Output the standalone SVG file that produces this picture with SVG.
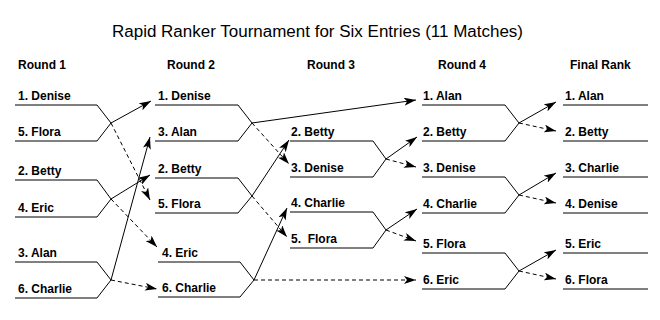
<svg xmlns="http://www.w3.org/2000/svg" width="660" height="320" viewBox="0 0 660 320">
<style>
.bg{fill:#fff}
.t{font-family:"Liberation Sans",Arial,sans-serif;font-size:12px;font-weight:bold;fill:#000;white-space:pre}
.title{font-family:"Liberation Sans",Arial,sans-serif;font-size:16px;fill:#000}
.u{stroke:#000;stroke-width:1;fill:none}
.d{stroke:#000;stroke-width:1;fill:none}
.w{stroke:#000;stroke-width:1;fill:none;marker-end:url(#ah)}
.l{stroke:#000;stroke-width:1;fill:none;stroke-dasharray:4 3;marker-end:url(#ah)}
</style>
<defs>
<marker id="ah" markerUnits="userSpaceOnUse" markerWidth="12" markerHeight="8" refX="12" refY="4" orient="auto">
<path d="M0,0 L12,4 L0,8 L3,4 z" fill="#000"/>
</marker>
</defs>
<rect class="bg" x="0" y="0" width="660" height="320"/>
<text class="title" x="112" y="37" textLength="411" lengthAdjust="spacingAndGlyphs">Rapid Ranker Tournament for Six Entries (11 Matches)</text>
<g id="headers">
<text class="t" x="18" y="69">Round 1</text>
<text class="t" x="167" y="69">Round 2</text>
<text class="t" x="307" y="69">Round 3</text>
<text class="t" x="438" y="69">Round 4</text>
<text class="t" x="570" y="69">Final Rank</text>
</g>
<g id="round1">
<g id="r1-denise"><text class="t" x="18" y="100">1. Denise</text><line class="u" x1="15" y1="105" x2="97" y2="105"/></g>
<g id="r1-flora"><text class="t" x="18" y="136">5. Flora</text><line class="u" x1="15" y1="141" x2="97" y2="141"/></g>
<g id="r1-betty"><text class="t" x="18" y="175">2. Betty</text><line class="u" x1="15" y1="180" x2="97" y2="180"/></g>
<g id="r1-eric"><text class="t" x="18" y="212">4. Eric</text><line class="u" x1="15" y1="217" x2="97" y2="217"/></g>
<g id="r1-alan"><text class="t" x="18" y="257">3. Alan</text><line class="u" x1="15" y1="262" x2="97" y2="262"/></g>
<g id="r1-charlie"><text class="t" x="18" y="293">6. Charlie</text><line class="u" x1="15" y1="298" x2="97" y2="298"/></g>
</g>
<g id="round2">
<g id="r2-denise"><text class="t" x="158" y="100">1. Denise</text><line class="u" x1="155" y1="105" x2="238" y2="105"/></g>
<g id="r2-alan"><text class="t" x="158" y="136">3. Alan</text><line class="u" x1="155" y1="141" x2="238" y2="141"/></g>
<g id="r2-betty"><text class="t" x="158" y="173">2. Betty</text><line class="u" x1="155" y1="178" x2="238" y2="178"/></g>
<g id="r2-flora"><text class="t" x="158" y="208">5. Flora</text><line class="u" x1="155" y1="213" x2="238" y2="213"/></g>
<g id="r2-eric"><text class="t" x="162" y="257">4. Eric</text><line class="u" x1="158" y1="262" x2="240" y2="262"/></g>
<g id="r2-charlie"><text class="t" x="162" y="292">6. Charlie</text><line class="u" x1="158" y1="297" x2="240" y2="297"/></g>
</g>
<g id="round3">
<g id="r3-betty"><text class="t" x="291" y="136">2. Betty</text><line class="u" x1="290" y1="141" x2="373" y2="141"/></g>
<g id="r3-denise"><text class="t" x="291" y="172">3. Denise</text><line class="u" x1="290" y1="177" x2="373" y2="177"/></g>
<g id="r3-charlie"><text class="t" x="291" y="207">4. Charlie</text><line class="u" x1="290" y1="212" x2="373" y2="212"/></g>
<g id="r3-flora"><text class="t" x="291" y="243">5.  Flora</text><line class="u" x1="290" y1="248" x2="373" y2="248"/></g>
</g>
<g id="round4">
<g id="r4-alan"><text class="t" x="423" y="100">1. Alan</text><line class="u" x1="422" y1="105" x2="505" y2="105"/></g>
<g id="r4-betty"><text class="t" x="423" y="136">2. Betty</text><line class="u" x1="422" y1="141" x2="505" y2="141"/></g>
<g id="r4-denise"><text class="t" x="423" y="172">3. Denise</text><line class="u" x1="422" y1="177" x2="505" y2="177"/></g>
<g id="r4-charlie"><text class="t" x="423" y="208">4. Charlie</text><line class="u" x1="422" y1="213" x2="505" y2="213"/></g>
<g id="r4-flora"><text class="t" x="423" y="248">5. Flora</text><line class="u" x1="422" y1="253" x2="505" y2="253"/></g>
<g id="r4-eric"><text class="t" x="423" y="284">6. Eric</text><line class="u" x1="422" y1="289" x2="505" y2="289"/></g>
</g>
<g id="final">
<g id="f-alan"><text class="t" x="565" y="100">1. Alan</text><line class="u" x1="563" y1="105" x2="648" y2="105"/></g>
<g id="f-betty"><text class="t" x="565" y="136">2. Betty</text><line class="u" x1="563" y1="141" x2="648" y2="141"/></g>
<g id="f-charlie"><text class="t" x="565" y="172">3. Charlie</text><line class="u" x1="563" y1="177" x2="648" y2="177"/></g>
<g id="f-denise"><text class="t" x="565" y="208">4. Denise</text><line class="u" x1="563" y1="213" x2="648" y2="213"/></g>
<g id="f-eric"><text class="t" x="565" y="248">5. Eric</text><line class="u" x1="563" y1="253" x2="648" y2="253"/></g>
<g id="f-flora"><text class="t" x="565" y="284">6. Flora</text><line class="u" x1="563" y1="289" x2="648" y2="289"/></g>
</g>
<g id="connectors">
<polyline class="d" points="97,105 111,123 97,141"/>
<polyline class="d" points="97,180 111,199 97,217"/>
<polyline class="d" points="97,262 111,280 97,298"/>
<polyline class="d" points="238,105 252,123 238,141"/>
<polyline class="d" points="238,178 252,196 238,213"/>
<polyline class="d" points="240,262 254,280 240,297"/>
<polyline class="d" points="373,141 386,159 373,177"/>
<polyline class="d" points="373,212 386,230 373,248"/>
<polyline class="d" points="505,105 519,123 505,141"/>
<polyline class="d" points="505,177 519,195 505,213"/>
<polyline class="d" points="505,253 519,271 505,289"/>
<line class="w" x1="111" y1="123" x2="151" y2="101"/>
<line class="l" x1="111" y1="123" x2="150" y2="200"/>
<line class="w" x1="111" y1="199" x2="150" y2="175"/>
<line class="l" x1="111" y1="199" x2="157" y2="247"/>
<line class="w" x1="111" y1="280" x2="150" y2="137"/>
<line class="l" x1="111" y1="280" x2="157" y2="289"/>
<line class="w" x1="252" y1="123" x2="416" y2="100"/>
<line class="l" x1="252" y1="123" x2="289" y2="164"/>
<line class="w" x1="252" y1="196" x2="289" y2="140"/>
<line class="l" x1="252" y1="196" x2="287" y2="237"/>
<line class="w" x1="254" y1="280" x2="287" y2="208"/>
<line class="l" x1="254" y1="280" x2="416" y2="280"/>
<line class="w" x1="386" y1="159" x2="417" y2="137"/>
<line class="l" x1="386" y1="159" x2="416" y2="167"/>
<line class="w" x1="386" y1="230" x2="417" y2="209"/>
<line class="l" x1="386" y1="230" x2="416" y2="241"/>
<line class="w" x1="519" y1="123" x2="556" y2="102"/>
<line class="l" x1="519" y1="123" x2="556" y2="131"/>
<line class="w" x1="519" y1="195" x2="556" y2="173"/>
<line class="l" x1="519" y1="195" x2="556" y2="203"/>
<line class="w" x1="519" y1="271" x2="556" y2="250"/>
<line class="l" x1="519" y1="271" x2="556" y2="279"/>
</g>
</svg>
